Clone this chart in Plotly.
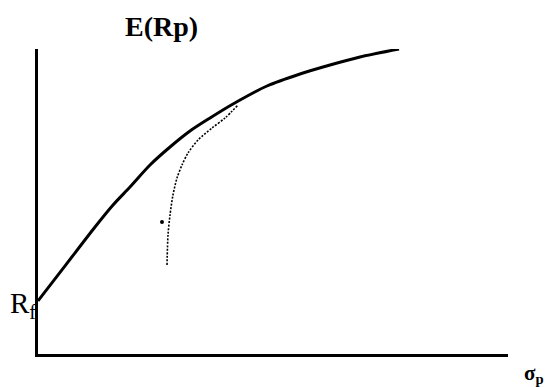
import plotly.graph_objects as go

# Capital market line / efficient frontier (schematic units)
sigma_cml = [0, 0.596, 1.213, 1.596, 1.957, 2.383, 2.809, 3.234, 3.66, 4.149, 4.872, 5.574, 6.213, 6.851, 7.681]
ret_cml = [1.74, 2.931, 4.164, 4.885, 5.475, 6.197, 6.787, 7.311, 7.738, 8.197, 8.787, 9.18, 9.475, 9.738, 10.0]

# Dotted frontier of risky assets
sigma_front = [2.745, 2.766, 2.809, 2.872, 2.957, 3.064, 3.191, 3.404, 3.702, 3.979, 4.255]
ret_front = [2.918, 3.902, 4.557, 5.213, 5.77, 6.197, 6.59, 7.016, 7.41, 7.738, 8.164]

# Single portfolio point
sigma_pt = [2.638]
ret_pt = [4.328]

fig = go.Figure()
fig.add_trace(go.Scatter(x=sigma_cml, y=ret_cml, mode="lines",
                         line=dict(color="black", width=3, shape="spline", smoothing=0.8),
                         hoverinfo="skip"))
fig.add_trace(go.Scatter(x=sigma_front, y=ret_front, mode="lines",
                         line=dict(color="black", width=1.6, dash="2px,1.5px", shape="spline", smoothing=0.8),
                         hoverinfo="skip"))
fig.add_trace(go.Scatter(x=sigma_pt, y=ret_pt, mode="markers",
                         marker=dict(color="black", size=4),
                         hoverinfo="skip"))

serif = "Liberation Serif, Times New Roman, serif"
fig.update_layout(
    width=544, height=379,
    margin=dict(l=30, r=44, t=41, b=33),
    paper_bgcolor="white", plot_bgcolor="white",
    showlegend=False,
    xaxis=dict(range=[0, 10], showgrid=False, zeroline=False, showticklabels=False,
               ticks="", showline=True, linecolor="black", linewidth=3),
    yaxis=dict(range=[0, 10], showgrid=False, zeroline=False, showticklabels=False,
               ticks="", showline=True, linecolor="black", linewidth=3),
    annotations=[
        dict(text="<b>E(Rp)</b>", xref="paper", yref="paper", x=0.263, y=1.075,
             xanchor="center", yanchor="middle", showarrow=False,
             font=dict(family=serif, size=28, color="black")),
        dict(text="R<sub>f</sub>", xref="paper", yref="paper", x=0.0, y=0.16,
             xanchor="right", yanchor="middle", showarrow=False,
             font=dict(family=serif, size=29, color="black")),
        dict(text="<b>σ<sub>p</sub></b>", xref="paper", yref="paper", x=1.03, y=-0.065,
             xanchor="left", yanchor="middle", showarrow=False,
             font=dict(family=serif, size=21, color="black")),
    ],
)
fig.write_html("out.html")
